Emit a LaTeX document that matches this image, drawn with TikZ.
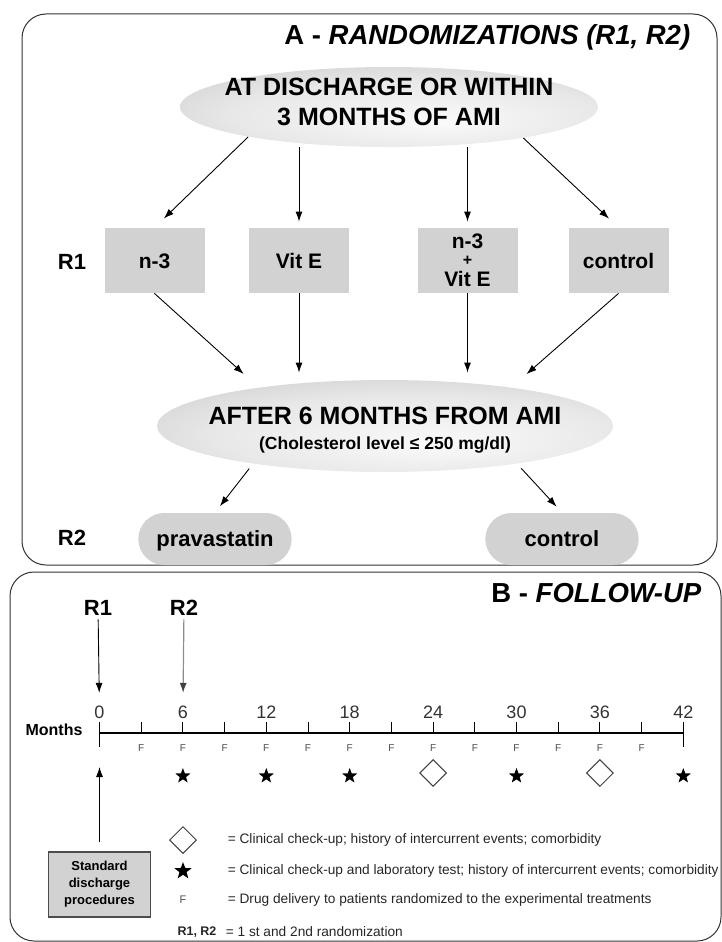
\documentclass[tikz,border=0pt]{standalone}
\usepackage{fontspec}
\setmainfont{Liberation Sans}
\usetikzlibrary{shapes.geometric,shapes.misc,arrows.meta,calc}
\pgfdeclareradialshading{ovalshade}{\pgfpoint{6bp}{-10bp}}{color(0bp)=(gray!4); color(22bp)=(gray!18); color(42bp)=(gray!45); color(52bp)=(gray!62)}

\begin{document}
\begin{tikzpicture}[x=1pt, y=-1pt, >={Latex[length=10pt,width=7pt]}, line width=0.9pt,
    frame/.style={draw=black!80, line width=1pt, rounded corners=24pt},
    ttl/.style={anchor=east, font=\fontsize{27.5}{27.5}\selectfont\bfseries},
    big/.style={font=\fontsize{25}{30}\selectfont\bfseries},
    lab/.style={font=\fontsize{22}{22}\selectfont\bfseries},
    oval/.style={ellipse, shading=ovalshade, shade, inner sep=0pt},
    box/.style={rectangle, fill=gray!35, minimum width=100pt, minimum height=65pt, inner sep=0pt, align=center, text height=15pt, text depth=0pt, font=\fontsize{21}{25}\selectfont\bfseries},
    pill/.style={rounded rectangle, fill=gray!35, minimum width=160pt, minimum height=52pt, text height=15pt, text depth=0pt, font=\fontsize{22}{22}\selectfont\bfseries},
    num/.style={font=\fontsize{18}{18}\selectfont, text=black!80},
    fl/.style={font=\fontsize{10}{10}\selectfont, text=black!70},
    starmark/.style={star, star points=5, star point ratio=2.4, fill=black, minimum size=16pt, inner sep=0pt},
    diamark/.style={diamond, draw=black!75, line width=1pt, minimum size=27pt, inner sep=0pt},
    stdbox/.style={rectangle, draw=black!70, line width=1.5pt, fill=gray!35, minimum width=102pt, minimum height=65pt, inner sep=0pt, align=center, font=\fontsize{13}{17}\selectfont\bfseries},
    leg/.style={anchor=west, font=\fontsize{13.7}{13.7}\selectfont, text=black!85}]
\useasboundingbox (0,0) rectangle (722,942);

% A - randomizations
\draw[frame] (22,14) rectangle (717,565);
\node[ttl] (ta) at (694,37) {A - \textit{RANDOMIZATIONS (R1, R2)}};

\node[oval, minimum width=418pt, minimum height=80pt] (e1) at (389,107) {};
\node[big, align=center] (e1t) at (389,102) {AT DISCHARGE OR WITHIN\\3 MONTHS OF AMI};

\node[lab] (r1) at (72,262) {R1};
\node[box] (n3) at (154.5,260.5) {n-3};
\node[box] (vite) at (299,260.5) {Vit E};
\node[box, text height=, text depth=, label={[font=\fontsize{16}{16}\selectfont\bfseries, yshift=0pt]center:+}] (both) at (467.5,260.5) {n-3\\[13pt]Vit E};
\node[box] (ctrl) at (618.5,260.5) {control};

\draw[->, shorten >=13pt] (e1.192) -- (n3.north);
\draw[->, shorten >=6pt] (e1.south -| vite.north) -- (vite.north);
\draw[->, shorten >=6pt] (e1.south -| both.north) -- (both.north);
\draw[->, shorten >=13pt] (e1.347) -- (ctrl.north);

\node[oval, minimum width=456pt, minimum height=92pt] (e2) at (385,426) {};
\node[anchor=base, big] (e2a) at (385,424) {AFTER 6 MONTHS FROM AMI};
\node[anchor=base, font=\fontsize{17.5}{17.5}\selectfont\bfseries] (e2b) at (385,449) {(Cholesterol level ≤ 250 mg/dl)};

\draw[->, shorten >=20pt] (n3.south) -- (e2.163);
\draw[->, shorten >=7pt] (vite.south) -- (vite.south |- e2.north);
\draw[->, shorten >=7pt] (both.south) -- (both.south |- e2.north);
\draw[->, shorten >=20pt] (ctrl.south) -- (e2.17);

\node[lab] (r2) at (72,538) {R2};
\node[pill] (prav) at (215,539) {pravastatin};
\node[pill] (ctrl2) at (562,539) {control};

\draw[->, shorten <=6pt, shorten >=8pt] (e2.196) -- (prav.north);
\draw[->, shorten <=6pt, shorten >=8pt] (e2.344) -- (ctrl2.north);

% B - follow-up
\draw[frame] (10,572) rectangle (721,941);
\node[ttl] (tb) at (705,593) {B - \textit{FOLLOW-UP}};

\node[lab] (lr1) at (98,608) {R1};
\node[lab] (lr2) at (184,608) {R2};

\foreach \m in {0,3,...,42}
  \coordinate (m\m) at (99.5+13.9*\m,733);
\node[font=\fontsize{16}{16}\selectfont\bfseries] (mo) at (54,730) {Months};
\draw[line width=1.2pt] (m0) -- (m42);
\foreach \m in {3,6,...,39}
  \draw[line width=1pt] (m\m) -- ++(0,-11);
\draw[line width=1pt] ($(m0)+(0,-11)$) -- ($(m0)+(0,14)$);
\draw[line width=1pt] ($(m42)+(0,-11)$) -- ($(m42)+(0,14)$);
\foreach \m in {0,6,...,42}
  \node[num] (t\m) at ($(m\m)+(0,-21)$) {\m};
\foreach \m in {3,6,...,39}
  \node[fl] (f\m) at ($(m\m)+(0,15)$) {F};
\foreach \m in {6,12,18,30,42}
  \node[starmark] (s\m) at ($(m\m)+(0,43)$) {};
\foreach \m in {24,36}
  \node[diamark] (d\m) at ($(m\m)+(0,40)$) {};

\draw[->, shorten >=9pt] (lr1) -- (t0);
\draw[-{Latex[length=10pt,width=7pt,black!75]}, draw=black!45, line width=1.2pt, shorten >=9pt] (lr2) -- (t6);

\node[stdbox] (std) at (99.5,884.5) {Standard\\discharge\\procedures};
\coordinate (b0) at ($(m0)+(0,14)$);
\draw[->, shorten <=9pt, shorten >=20pt] (std.north) -- (b0);

% legend
\node[diamark] (ld) at (183,840) {};
\node[starmark, minimum size=18pt] (ls) at (183,871) {};
\node[fl, font=\fontsize{11}{11}\selectfont] (lf) at (183,900) {F};
\node[font=\fontsize{12.5}{12.5}\selectfont\bfseries, text=black!85] (lr) at (197,932) {R1, R2};
\node[leg] (ltx1) at (224,840) {= Clinical check-up; history of intercurrent events; comorbidity};
\node[leg] (ltx2) at (224,871) {= Clinical check-up and laboratory test; history of intercurrent events; comorbidity};
\node[leg] (ltx3) at (224,900) {= Drug delivery to patients randomized to the experimental treatments};
\node[leg] (ltx4) at (222,932) {= 1 st and 2nd randomization};
\end{tikzpicture}
\end{document}
